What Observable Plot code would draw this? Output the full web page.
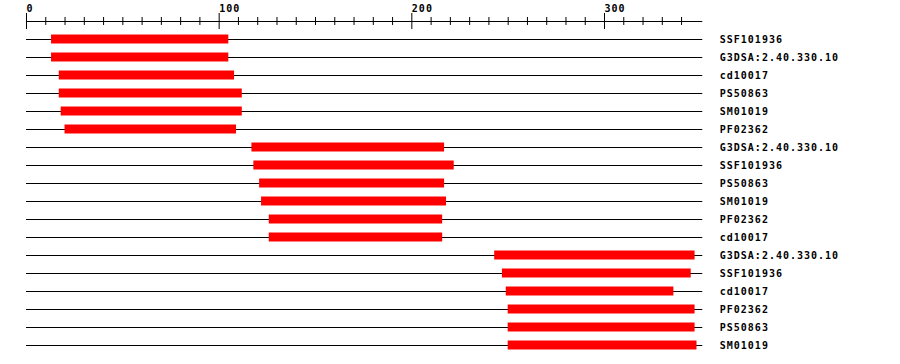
<!DOCTYPE html>
<html><head><meta charset="utf-8">
<script src="https://cdn.jsdelivr.net/npm/d3@7"></script>
<script src="https://cdn.jsdelivr.net/npm/@observablehq/plot@0.6"></script>
<style>
html,body{margin:0;padding:0;background:#fff;}
#chart svg text{font-family:"DejaVu Sans Mono",monospace;font-weight:bold;letter-spacing:1px;}
</style></head><body><div id="chart"></div>
<script>
const domainNames = ["SSF101936","G3DSA:2.40.330.10","cd10017","PS50863","SM01019","PF02362",
  "G3DSA:2.40.330.10","SSF101936","PS50863","SM01019","PF02362","cd10017",
  "G3DSA:2.40.330.10","SSF101936","cd10017","PF02362","PS50863","SM01019"];
const starts = [13,13,17,17,18,20, 117,118,121,122,126,126, 243,247,249,250,250,250];
const ends   = [105,105,108,112,112,109, 217,222,217,218,216,216, 347,345,336,347,347,348];
const seqLength = 351;
const majorTicks = [0,100,200,300];
const minorTicks = [10,20,30,40,50,60,70,80,90,110,120,130,140,150,160,170,180,190,
  210,220,230,240,250,260,270,280,290,310,320,330,340];

const rows = domainNames.map((name,i)=>({i, name, start: starts[i], end: ends[i]}));

const chart = Plot.plot({
  width: 900,
  height: 364,
  margin: 0,
  x: {domain:[0, seqLength], range:[26, 26 + seqLength*1.9267], axis: null},
  y: {type:"linear", domain:[0,17], range:[39, 345], axis: null},
  style: {background:"#fff", color:"#000", fontSize:"10px", overflow:"visible"},
  marks: [
    // top axis
    Plot.ruleY([-1], {x1: 0, x2: seqLength, stroke:"#000", strokeWidth:1}),
    Plot.ruleX(majorTicks, {x: d=>d, y1: -1.445, y2: -0.555, stroke:"#000", strokeWidth:1}),
    Plot.ruleX(minorTicks, {x: d=>d, y1: -1.223, y2: -0.778, stroke:"#000", strokeWidth:1}),
    Plot.text(majorTicks, {x: d=>d, y: -1.72, text: d=>String(d), textAnchor:"start", fill:"#000", fontSize:10}),
    // row lines
    Plot.ruleY(rows, {y:"i", x1: ()=>0, x2: ()=>seqLength, stroke:"#000", strokeWidth:1}),
    // domain bars
    Plot.rect(rows, {x1:"start", x2:"end", y1: d=>d.i-0.25, y2: d=>d.i+0.25, fill:"#ff0000"}),
    // labels
    Plot.text(rows, {x: ()=>seqLength, y:"i", text:"name", textAnchor:"start", dx:17, fill:"#000", fontSize:10})
  ]
});
document.getElementById("chart").appendChild(chart);
</script></body></html>
